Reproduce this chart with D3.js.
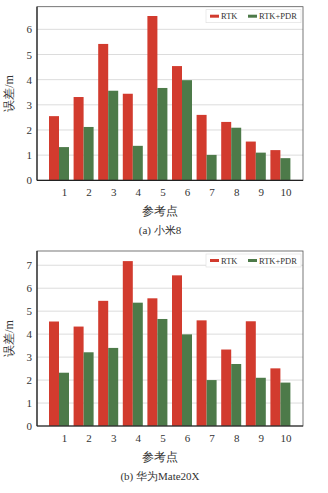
<!DOCTYPE html>
<html><head><meta charset="utf-8">
<script src="https://cdn.jsdelivr.net/npm/d3@7"></script>
<style>body{margin:0;background:#fff}svg{display:block}</style>
</head><body>
<script>
const categories = ["1","2","3","4","5","6","7","8","9","10"];
const seriesNames = ["RTK","RTK+PDR"];
const xiaomiRTK = [2.55,3.31,5.42,3.44,6.53,4.54,2.6,2.32,1.54,1.2];
const xiaomiPDR = [1.32,2.12,3.56,1.37,3.67,3.98,1.01,2.09,1.1,0.88];
const huaweiRTK = [4.55,4.33,5.45,7.18,5.56,6.56,4.6,3.33,4.56,2.51];
const huaweiPDR = [2.32,3.21,3.40,5.37,4.66,3.99,2.0,2.70,2.1,1.89];
const ticksA = [0,1,2,3,4,5,6];
const ticksB = [0,1,2,3,4,5,6,7];
const colors = ["#d23b2e","#4d7a49"];

const svg = d3.select("body").append("svg").attr("width",328).attr("height",493);
const serif = "'Liberation Serif','Times New Roman',serif";

function panel(top, zeroY, topY, ymax, rtk, pdr, ticks, caption){
  const x0 = 37, x1 = 303;
  const g = svg.append("g");
  const y = d3.scaleLinear().domain([0,ymax]).range([zeroY, topY]);
  const xb = d3.scaleBand().domain(categories).range([49, 290.4]).paddingInner(0.187).paddingOuter(0);
  const bw = xb.bandwidth()/2;
  // grid
  g.append("g").selectAll("line").data(ticks.filter(t=>t>0)).join("line")
    .attr("x1",x0).attr("x2",x1).attr("y1",d=>y(d)).attr("y2",d=>y(d))
    .attr("stroke","#dcdcdc").attr("stroke-width",1);
  // bars
  const data = categories.map((c,i)=>({c, v:[rtk[i],pdr[i]]}));
  const grp = g.append("g").selectAll("g").data(data).join("g");
  grp.selectAll("rect").data(d=>d.v.map((v,k)=>({c:d.c,v,k}))).join("rect")
    .attr("x",d=>xb(d.c)+d.k*bw).attr("width",bw)
    .attr("y",d=>y(d.v)).attr("height",d=>zeroY-y(d.v))
    .attr("fill",d=>colors[d.k]);
  // frame
  g.append("rect").attr("x",x0).attr("y",topY).attr("width",x1-x0).attr("height",zeroY-topY)
    .attr("fill","none").attr("stroke","#555").attr("stroke-width",0.8);
  g.append("line").attr("x1",x0).attr("x2",x1).attr("y1",zeroY).attr("y2",zeroY).attr("stroke","#222").attr("stroke-width",1.2);
  g.append("line").attr("x1",x0).attr("x2",x0).attr("y1",topY).attr("y2",zeroY).attr("stroke","#222").attr("stroke-width",1.2);
  // y axis
  const ya = d3.axisLeft(y).tickValues(ticks).tickSize(0).tickPadding(5).tickFormat(d3.format("d"));
  const yg = g.append("g").attr("transform",`translate(${x0},0)`).call(ya);
  yg.select(".domain").remove();
  yg.selectAll("text").attr("font-family",serif).attr("font-size",11).attr("fill","#333");
  // x axis labels at PDR bar centers
  const xa = d3.axisBottom(d3.scalePoint().domain(categories).range([xb(categories[0])+bw*1.5, xb(categories[9])+bw*1.5]))
    .tickSize(0).tickPadding(8);
  const xg = g.append("g").attr("transform",`translate(0,${zeroY})`).call(xa);
  xg.select(".domain").remove();
  xg.selectAll("text").attr("font-family",serif).attr("font-size",11).attr("fill","#333");
  // titles
  g.append("text").attr("transform",`translate(10,${(zeroY+topY)/2}) rotate(-90)`)
    .attr("text-anchor","middle").attr("dominant-baseline","middle")
    .attr("font-family",serif).attr("font-size",12).attr("fill","#333").text("误差/m");
  g.append("text").attr("x",160).attr("y",zeroY+35).attr("text-anchor","middle")
    .attr("font-family",serif).attr("font-size",12).attr("fill","#333").text("参考点");
  g.append("text").attr("x",160).attr("y",zeroY+54).attr("text-anchor","middle")
    .attr("font-family",serif).attr("font-size",11).attr("fill","#333").text(caption);
  // legend
  const lg = g.append("g").attr("transform",`translate(206,${topY+3})`);
  lg.append("rect").attr("x",0).attr("y",0).attr("width",95).attr("height",13)
    .attr("fill","#fff").attr("stroke","#ddd").attr("stroke-width",0.6);
  const lx = [4,42];
  seriesNames.forEach((s,k)=>{
    lg.append("rect").attr("x",lx[k]).attr("y",5).attr("width",9).attr("height",3).attr("fill",colors[k]);
    lg.append("text").attr("x",lx[k]+11).attr("y",9.5).attr("font-family",serif).attr("font-size",8.5)
      .attr("fill","#333").text(s);
  });
}

panel(0, 180.3, 6.7, 6.9, xiaomiRTK, xiaomiPDR, ticksA, "(a) 小米8");
panel(245, 426, 251, 7.62, huaweiRTK, huaweiPDR, ticksB, "(b) 华为Mate20X");
</script>
</body></html>
